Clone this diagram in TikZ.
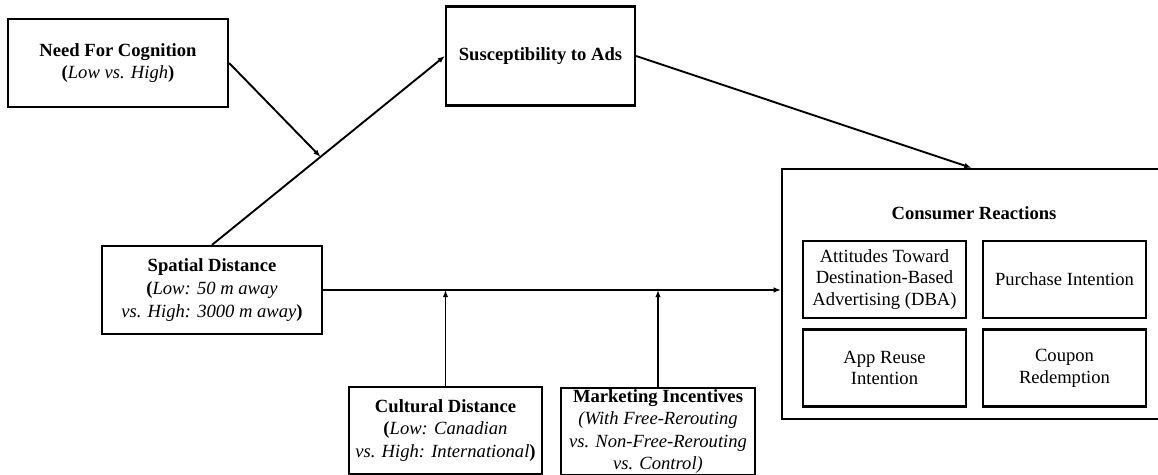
\documentclass[tikz,border=0pt]{standalone}
\usepackage{fontspec}
\setmainfont{Liberation Serif}
\usetikzlibrary{arrows.meta,calc}

\begin{document}
\begin{tikzpicture}[x=0.5pt,y=-0.5pt,
  txt/.style={align=center, inner sep=0pt, font=\fontsize{9.3}{11.3}\selectfont},
  box/.style={txt, draw, line width=1.1pt},
  subbox/.style={box, minimum width=81.5pt, minimum height=38.5pt, font=\fontsize{9.3}{10.9}\selectfont},
  arr/.style={line width=0.95pt, -{Latex[length=3.6pt,width=2.8pt]}}]
\useasboundingbox (0,0) rectangle (1158,475);

% predictor, moderators and mediator
\node[box, minimum width=110pt, minimum height=44pt] (nfc) at (118,63)
  {\textbf{Need For Cognition}\\\textbf{(}\textit{Low vs. High}\textbf{)}};
\node[box, minimum width=94.5pt, minimum height=49.5pt] (sus) at (540.5,56)
  {\textbf{Susceptibility to Ads}};
\node[box, minimum width=110pt, minimum height=44pt] (sd) at (212,290)
  {\textbf{Spatial Distance}\\\textbf{(}\textit{Low: 50 m away}\\\textit{vs. High: 3000 m away}\textbf{)}};
\node[box, minimum width=96.5pt, minimum height=43.5pt] (cd) at (445.5,430.5)
  {\textbf{Cultural Distance}\\\textbf{(}\textit{Low: Canadian}\\\textit{vs. High: International}\textbf{)}};
\node[box, minimum width=97pt, minimum height=43.5pt] (mi) at (658,431.5)
  {\textbf{Marketing Incentives}\\\textit{(With Free-Rerouting}\\\textit{vs. Non-Free-Rerouting}\\\textit{vs. Control)}};

% outcome block
\node[box, minimum width=189.5pt, minimum height=125pt] (cr) at (971.5,294) {};
\node[txt] (crt) at (974,213) {\textbf{Consumer Reactions}};
\node[subbox] (att) at (884.5,279.5) {Attitudes Toward\\Destination-Based\\Advertising (DBA)};
\node[subbox] (pi)  at (1064.5,279.5) {Purchase Intention};
\node[subbox] (app) at (884.5,368) {App Reuse\\Intention};
\node[subbox] (cpn) at (1064.5,368) {Coupon\\Redemption};

% paths
\draw[arr] (sd.north) -- (sus.west);
\coordinate (mod) at ($(sd.north)!0.466!(sus.west)$);
\draw[arr] (nfc.east) -- (mod);
\draw[arr] (sus.east) -- (cr.north);
\draw[arr] (sd.east) -- (sd.east -| cr.west);
\draw[arr] (cd.north) -- (cd.north |- sd.east);
\draw[arr] (mi.north) -- (mi.north |- sd.east);
\end{tikzpicture}
\end{document}
